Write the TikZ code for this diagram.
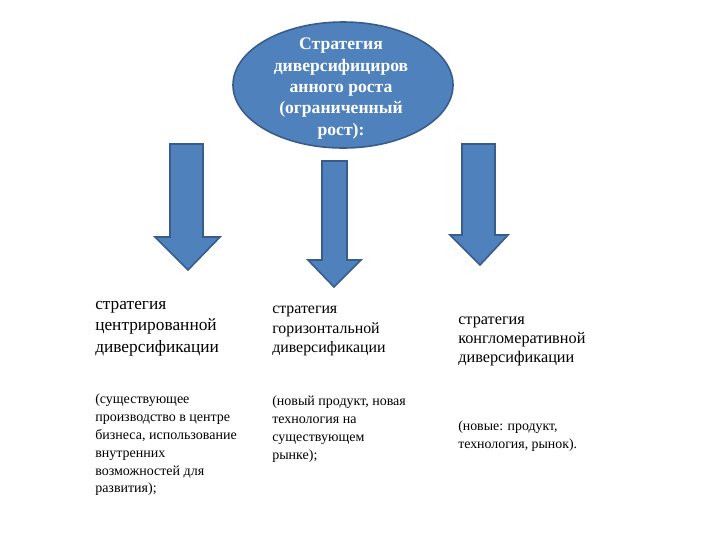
\documentclass[tikz,border=0pt]{standalone}
\usepackage{fontspec}
\setmainfont{Liberation Serif}
\usetikzlibrary{shapes.geometric}
\definecolor{blfill}{HTML}{4F81BD}
\definecolor{bldraw}{HTML}{385D8A}
\tikzset{
  blueshape/.style={fill=blfill,draw=bldraw,line width=1.2pt,line join=miter},
  txtblock/.style={anchor=north west,inner sep=0pt,align=left}
}
\begin{document}
\begin{tikzpicture}[x=0.75pt,y=-0.75pt]
\useasboundingbox (0,0) rectangle (720,540);
\fill[white] (0,0) rectangle (720,540);
% ellipse
\node[ellipse,blueshape,minimum width=220*0.75pt,minimum height=126*0.75pt,inner sep=0pt] (top) at (343,85) {};
\node[align=center,text=white,font=\bfseries\fontsize{13.2pt}{16pt}\selectfont,inner sep=0pt] (toptxt) at (341,88.5)
 {Стратегия\\диверсифициров\\анного роста\\(ограниченный\\рост):};
% arrows
\draw[blueshape] (170,144) -- (203,144) -- (203,237) -- (220,237) -- (188,270) -- (155,237) -- (170,237) -- cycle;
\draw[blueshape] (322,161) -- (347,161) -- (347,260) -- (361,260) -- (334,287) -- (308,260) -- (322,260) -- cycle;
\draw[blueshape] (462,144) -- (495,144) -- (495,235) -- (508,235) -- (480,265) -- (450,235) -- (462,235) -- cycle;
% texts
\node[txtblock,font=\fontsize{13pt}{16pt}\selectfont] (l1) at (95,301) {стратегия\\центрированной\\диверсификации};
\node[txtblock,font=\fontsize{10.5pt}{13.4pt}\selectfont] (l2) at (95,393.6) {(существующее\\производство в центре\\бизнеса, использование\\внутренних\\возможностей для\\развития);};
\node[txtblock,font=\fontsize{11.9pt}{14.6pt}\selectfont] (m1) at (272,306.2) {стратегия\\горизонтальной\\диверсификации};
\node[txtblock,font=\fontsize{10.5pt}{13.5pt}\selectfont] (m2) at (272,395.6) {(новый продукт, новая\\технология на\\существующем\\рынке);};
\node[txtblock,font=\fontsize{12.2pt}{14.25pt}\selectfont] (r1) at (458,316.3) {стратегия\\конгломеративной\\диверсификации};
\node[txtblock,font=\fontsize{10.4pt}{13.5pt}\selectfont] (r2) at (458,420.6) {(новые: продукт,\\технология, рынок).};
\end{tikzpicture}
\end{document}
